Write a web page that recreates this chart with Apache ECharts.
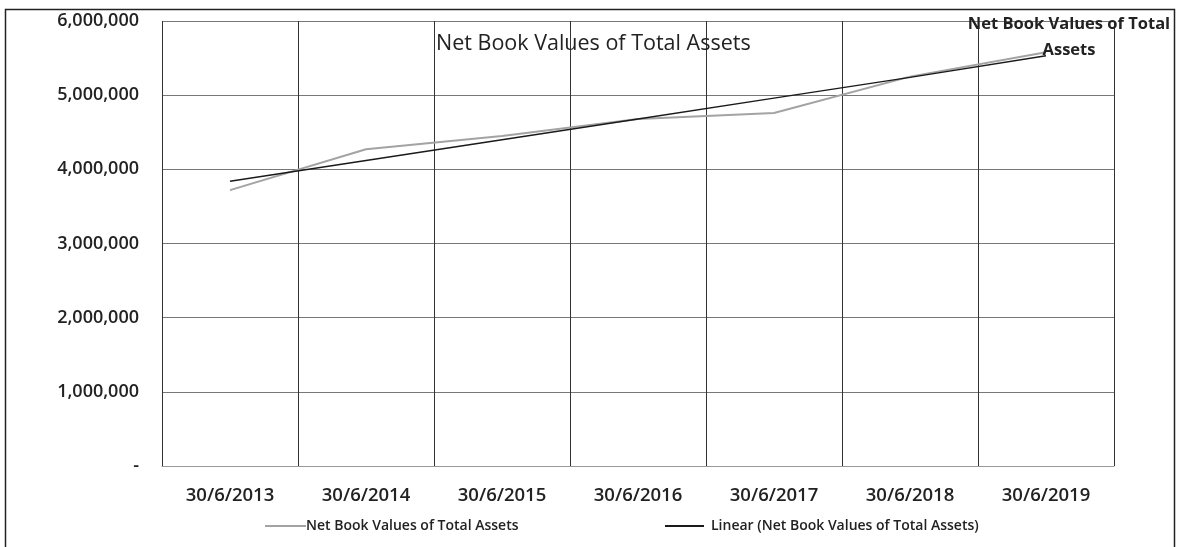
<!DOCTYPE html>
<html>
<head>
<meta charset="utf-8">
<script src="https://cdn.jsdelivr.net/npm/echarts@6/dist/echarts.min.js"></script>
<style>html,body{margin:0;padding:0;background:#fff;}#c{width:1177px;height:547px;}</style>
</head>
<body>
<div id="c"></div>
<script>
var categories = ['30/6/2013','30/6/2014','30/6/2015','30/6/2016','30/6/2017','30/6/2018','30/6/2019'];
var netBookValues = [3720000, 4270000, 4450000, 4680000, 4760000, 5250000, 5580000];
var linearTrend = [3840000, 4120000, 4400000, 4680000, 4960000, 5240000, 5530000];
var yTicks = [0, 1000000, 2000000, 3000000, 4000000, 5000000, 6000000];
var seriesName = 'Net Book Values of Total Assets';
var trendName = 'Linear (Net Book Values of Total Assets)';

var chart = echarts.init(document.getElementById('c'), null, {renderer:'canvas'});
var font = '"Open Sans", sans-serif';
chart.setOption({
  animation: false,
  backgroundColor: '#fff',
  title: {
    text: 'Net Book Values of Total Assets',
    left: 431, top: 28,
    textStyle: {fontFamily: font, fontSize: 21.5, fontWeight: 'normal', color: '#222'}
  },
  graphic: [
    {type:'rect', left: 3, top: 7, shape:{width:1169, height:560}, style:{fill:'none', stroke:'#222', lineWidth:1.5}, z:-1},
    {type:'text', x: 1069, y: 11, style:{text:'Net Book Values of Total\nAssets', align:'center', fontFamily: font, fontSize: 16.5, fontWeight: 'bold', lineHeight: 26, fill:'#222'}, z: 10}
  ],
  legend: [
    {data:[seriesName], left: 260, top: 514, itemWidth: 41, itemHeight: 2, icon: 'rect',
     textStyle:{fontFamily: font, fontSize: 14, fontWeight: 600, color:'#222', padding:[0,0,0,-5]}},
    {data:[trendName], left: 660, top: 514, itemWidth: 39, itemHeight: 2, icon: 'rect',
     textStyle:{fontFamily: font, fontSize: 14, fontWeight: 600, color:'#222', padding:[0,0,0,2]}}
  ],
  grid: {left: 162, right: 63, top: 21, bottom: 81, containLabel: false},
  xAxis: {
    type: 'category', data: categories, boundaryGap: true,
    axisLine: {show: true, lineStyle:{color:'#999', width:1}},
    axisTick: {show: false},
    axisLabel: {margin: 20, fontFamily: font, fontSize: 18.5, fontWeight: 600, color:'#222'},
    splitLine: {show: true, lineStyle:{color:'#333', width:1}}
  },
  yAxis: {
    type: 'value', min: 0, max: 6000000, interval: 1000000,
    axisLine: {show: false}, axisTick: {show: false},
    axisLabel: {margin: 23, fontFamily: font, fontSize: 18, fontWeight: 600, color:'#222',
      formatter: function(v){ return v === yTicks[0] ? '-' : v.toLocaleString('en-US'); }},
    splitLine: {show: true, lineStyle:{color:'#777', width:1}}
  },
  series: [
    {name: seriesName, type: 'line', data: netBookValues, symbol: 'none', color: '#a3a3a3',
     lineStyle:{color:'#a3a3a3', width:2}, z: 3},
    {name: trendName, type: 'line', data: linearTrend, symbol: 'none', color: '#1a1a1a',
     lineStyle:{color:'#1a1a1a', width:1.5}, z: 4}
  ]
});
</script>
</body>
</html>
